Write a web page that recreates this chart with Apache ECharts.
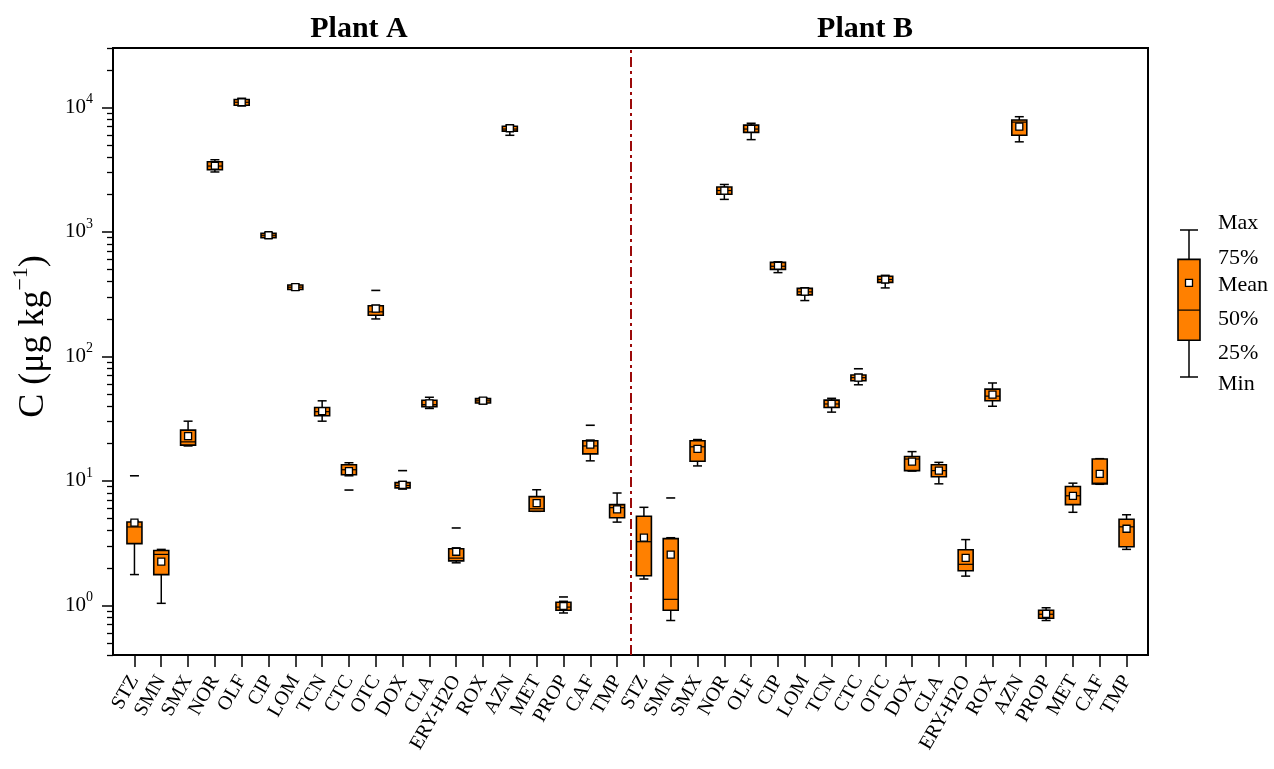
<!DOCTYPE html>
<html>
<head>
<meta charset="utf-8">
<title>Plant A / Plant B</title>
<script src="https://cdn.jsdelivr.net/npm/echarts@6/dist/echarts.min.js"></script>
<style>
  html, body { margin: 0; padding: 0; background: #fff; }
  #chart { width: 1274px; height: 769px; }
</style>
</head>
<body>
<div id="chart"></div>
<script>
// categories of each plant
const categoriesA = ['STZ', 'SMN', 'SMX', 'NOR', 'OLF', 'CIP', 'LOM', 'TCN', 'CTC', 'OTC',
    'DOX', 'CLA', 'ERY-H2O', 'ROX', 'AZN', 'MET', 'PROP', 'CAF', 'TMP'];
const categoriesB = ['STZ', 'SMN', 'SMX', 'NOR', 'OLF', 'CIP', 'LOM', 'TCN', 'CTC', 'OTC',
    'DOX', 'CLA', 'ERY-H2O', 'ROX', 'AZN', 'PROP', 'MET', 'CAF', 'TMP'];

// [min, 25%, 50%, 75%, max]  (µg/kg)
const statsA = [
    [1.77, 3.14, 4.27, 4.68, 4.75],
    [1.04, 1.77, 2.57, 2.76, 2.82],
    [19.1, 19.4, 20.6, 25.6, 30.2],
    [3030, 3160, 3380, 3660, 3800],
    [10300, 10400, 11000, 11560, 11840],
    [890, 900, 940, 975, 985],
    [340, 345, 360, 375, 380],
    [30.2, 33.4, 36, 38.9, 44],
    [11.0, 11.2, 12.3, 13.5, 14.0],
    [200, 214, 228, 255, 258],
    [8.6, 8.8, 9.2, 9.7, 9.9],
    [38.2, 39.5, 41, 44.5, 47],
    [2.2, 2.28, 2.4, 2.85, 2.9],
    [41.5, 42.3, 44, 45.8, 46.5],
    [5970, 6450, 6700, 7050, 7200],
    [5.7, 5.71, 5.98, 7.48, 8.5],
    [0.87, 0.915, 0.97, 1.06, 1.08],
    [14.5, 16.5, 19.1, 21.0, 21.3],
    [4.67, 5.06, 6.1, 6.45, 8.0]
];
const meanA = [4.63, 2.25, 22.9, 3400, 11000, 940, 360, 36.4, 12.0, 242,
    9.3, 42, 2.7, 44.2, 6800, 6.63, 0.99, 19.6, 5.9];
// [category index, value]
const outliersA = [[0, 11.0], [8, 8.45], [9, 339], [10, 12.1], [12, 4.19], [16, 1.17], [17, 28.0]];

const statsB = [
    [1.63, 1.73, 3.25, 5.2, 6.14],
    [0.757, 0.916, 1.12, 3.44, 3.5],
    [13.2, 14.4, 18.8, 21.0, 21.5],
    [1825, 2006, 2150, 2295, 2405],
    [5510, 6300, 6700, 7210, 7460],
    [471, 500, 530, 569, 575],
    [281, 312, 330, 352, 356],
    [35.7, 38.9, 41.5, 44.6, 46.1],
    [59.2, 63.8, 67.5, 71, 72],
    [355, 393, 415, 440, 448],
    [12.0, 12.1, 15.0, 15.7, 17.2],
    [9.48, 10.8, 12.1, 13.5, 14.1],
    [1.72, 1.90, 2.14, 2.80, 3.38],
    [39.8, 44.0, 48, 54.6, 61.2],
    [5290, 5970, 7620, 7920, 8420],
    [0.757, 0.79, 0.85, 0.915, 0.958],
    [5.6, 6.45, 7.6, 9.03, 9.6],
    [9.4, 9.48, 9.6, 15.0, 15.1],
    [2.82, 2.96, 4.28, 4.93, 5.35]
];
const meanB = [3.51, 2.56, 18.1, 2145, 6740, 535, 332, 41.7, 67.6, 415,
    14.3, 12.1, 2.41, 49.4, 7020, 0.855, 7.59, 11.4, 4.13];
const outliersB = [[1, 7.30], [8, 79.6]];

// y axis ticks
const yMin = 0.4;
const yMax = 30000;
const majorTicks = [1, 10, 100, 1000, 10000];
const minorTicks = [];
for (let e = -1; e <= 4; e++) {
    for (let k = 2; k <= 9; k++) {
        const v = +(k * Math.pow(10, e)).toPrecision(3);
        if (v >= yMin && v <= yMax) minorTicks.push(v);
    }
}

// legend key sample (relative scale 0..100)
const legendStats = [0, 25, 45.5, 80, 100];
const legendMean = 64;
const legendLabels = ['Max', '75%', 'Mean', '50%', '25%', 'Min'];

const ORANGE = '#FF8000';
const FONT = 'Liberation Serif';
const nA = categoriesA.length;

// 构造系列数据
const boxData = statsA.map((s, i) => [i].concat(s))
    .concat(statsB.map((s, i) => [i + nA].concat(s)));
const meanData = meanA.map((m, i) => [i, m]).concat(meanB.map((m, i) => [i + nA, m]));
const outlierData = outliersA.concat(outliersB.map(o => [o[0] + nA, o[1]]));

function boxRenderer(boxW, capW) {
    return function (params, api) {
        const x = api.value(0);
        const lo = api.coord([x, api.value(1)]);
        const q1 = api.coord([x, api.value(2)]);
        const md = api.coord([x, api.value(3)]);
        const q3 = api.coord([x, api.value(4)]);
        const hi = api.coord([x, api.value(5)]);
        const cx = lo[0];
        const ls = { stroke: '#000', lineWidth: 1.5 };
        return {
            type: 'group',
            children: [
                { type: 'line', shape: { x1: cx, y1: hi[1], x2: cx, y2: q3[1] }, style: ls },
                { type: 'line', shape: { x1: cx - capW / 2, y1: hi[1], x2: cx + capW / 2, y2: hi[1] }, style: ls },
                { type: 'line', shape: { x1: cx, y1: q1[1], x2: cx, y2: lo[1] }, style: ls },
                { type: 'line', shape: { x1: cx - capW / 2, y1: lo[1], x2: cx + capW / 2, y2: lo[1] }, style: ls },
                {
                    type: 'rect',
                    shape: { x: cx - boxW / 2, y: q3[1], width: boxW, height: q1[1] - q3[1] },
                    style: { fill: ORANGE, stroke: '#000', lineWidth: 1.6 }
                },
                { type: 'line', shape: { x1: cx - boxW / 2, y1: md[1], x2: cx + boxW / 2, y2: md[1] }, style: { stroke: '#000', lineWidth: 1.2 } }
            ]
        };
    };
}

const chart = echarts.init(document.getElementById('chart'));

const labelText = (text, y) => ({
    type: 'text',
    style: { text: text, x: 1218, y: y, font: '22px "' + FONT + '"', fill: '#000', align: 'left', verticalAlign: 'middle' }
});

const option = {
    animation: false,
    backgroundColor: '#fff',
    grid: [
        { left: 113, right: 126, top: 48, bottom: 114, show: true, borderColor: '#000', borderWidth: 2, outerBoundsMode: 'none' },
        { left: 121, right: 134, top: 48, bottom: 114, outerBoundsMode: 'none' },
        { left: 1179, width: 20, top: 230, bottom: 392, outerBoundsMode: 'none' }
    ],
    xAxis: [
        {
            gridIndex: 0, type: 'value', min: -0.8, max: 37.8,
            axisLine: { show: false, onZero: false }, axisTick: { show: false }, axisLabel: { show: false }, splitLine: { show: false }
        },
        {
            gridIndex: 1, type: 'category', data: categoriesA.concat(categoriesB),
            axisLine: { show: false, onZero: false },
            axisTick: { show: true, alignWithLabel: true, length: 12, lineStyle: { color: '#000', width: 1.5 } },
            axisLabel: { interval: 0, rotate: 60, margin: 22, color: '#000', fontFamily: FONT, fontSize: 20 },
            splitLine: { show: false }
        },
        { gridIndex: 2, type: 'value', min: 0, max: 1, show: false }
    ],
    yAxis: [
        {
            gridIndex: 0, type: 'log', min: yMin, max: yMax, position: 'left',
            name: 'C (μg kg{s|−1})',
            nameLocation: 'middle', nameGap: 55, nameRotate: 90, nameMoveOverlap: false,
            nameTextStyle: {
                fontFamily: FONT, fontSize: 36, color: '#000', lineHeight: 48, padding: [0, 0, 0, 30],
                rich: { s: { fontFamily: FONT, fontSize: 22, verticalAlign: 'top', lineHeight: 30, color: '#000' } }
            },
            axisLine: { show: false, onZero: false },
            axisTick: { show: true, customValues: majorTicks, length: 11, lineStyle: { color: '#000', width: 1.5 } },
            axisLabel: {
                customValues: majorTicks, margin: 20, color: '#000', fontFamily: FONT, fontSize: 21, lineHeight: 30,
                formatter: v => '10{s|' + Math.round(Math.log10(v)) + '}',
                rich: { s: { fontFamily: FONT, fontSize: 14, verticalAlign: 'top', lineHeight: 18, color: '#000' } }
            },
            splitLine: { show: false }, minorTick: { show: false }
        },
        {
            gridIndex: 0, type: 'log', min: yMin, max: yMax, position: 'left',
            axisLine: { show: false, onZero: false },
            axisTick: { show: true, customValues: minorTicks, length: 6, lineStyle: { color: '#000', width: 1.3 } },
            axisLabel: { show: false },
            splitLine: { show: false }
        },
        { gridIndex: 1, type: 'value', show: false },
        { gridIndex: 2, type: 'value', min: 0, max: 100, show: false }
    ],
    series: [
        {
            name: 'box', type: 'custom', xAxisIndex: 0, yAxisIndex: 0,
            renderItem: boxRenderer(15, 9),
            encode: { x: 0, y: [1, 2, 3, 4, 5] },
            data: boxData, z: 2
        },
        {
            name: 'mean', type: 'scatter', xAxisIndex: 0, yAxisIndex: 0,
            symbol: 'rect', symbolSize: 7,
            itemStyle: { color: '#fff', borderColor: '#000', borderWidth: 1.3, opacity: 1 },
            data: meanData, z: 3,
            markLine: {
                silent: true, symbol: 'none', label: { show: false },
                lineStyle: { color: '#9B0A0A', width: 2, type: [10, 4, 3, 4] },
                data: [{ xAxis: nA - 0.5 }]
            }
        },
        {
            name: 'outlier', type: 'scatter', xAxisIndex: 0, yAxisIndex: 0,
            symbol: 'rect', symbolSize: [9, 1.6],
            itemStyle: { color: '#000', opacity: 1 },
            data: outlierData, z: 3
        },
        {
            name: 'legendBox', type: 'custom', xAxisIndex: 2, yAxisIndex: 3,
            renderItem: boxRenderer(22, 18),
            encode: { x: 0, y: [1, 2, 3, 4, 5] },
            data: [[0.5].concat(legendStats)], z: 2
        },
        {
            name: 'legendMean', type: 'scatter', xAxisIndex: 2, yAxisIndex: 3,
            symbol: 'rect', symbolSize: 7,
            itemStyle: { color: '#fff', borderColor: '#000', borderWidth: 1.3, opacity: 1 },
            data: [[0.5, legendMean]], z: 3
        }
    ],
    graphic: [
        { type: 'text', style: { text: 'Plant A', x: 359, y: 29, font: 'bold 30px "' + FONT + '"', fill: '#000', align: 'center', verticalAlign: 'middle' } },
        { type: 'text', style: { text: 'Plant B', x: 865, y: 29, font: 'bold 30px "' + FONT + '"', fill: '#000', align: 'center', verticalAlign: 'middle' } },
        labelText(legendLabels[0], 223),
        labelText(legendLabels[1], 258),
        labelText(legendLabels[2], 285),
        labelText(legendLabels[3], 319),
        labelText(legendLabels[4], 353),
        labelText(legendLabels[5], 384)
    ]
};

chart.setOption(option);
</script>
</body>
</html>
